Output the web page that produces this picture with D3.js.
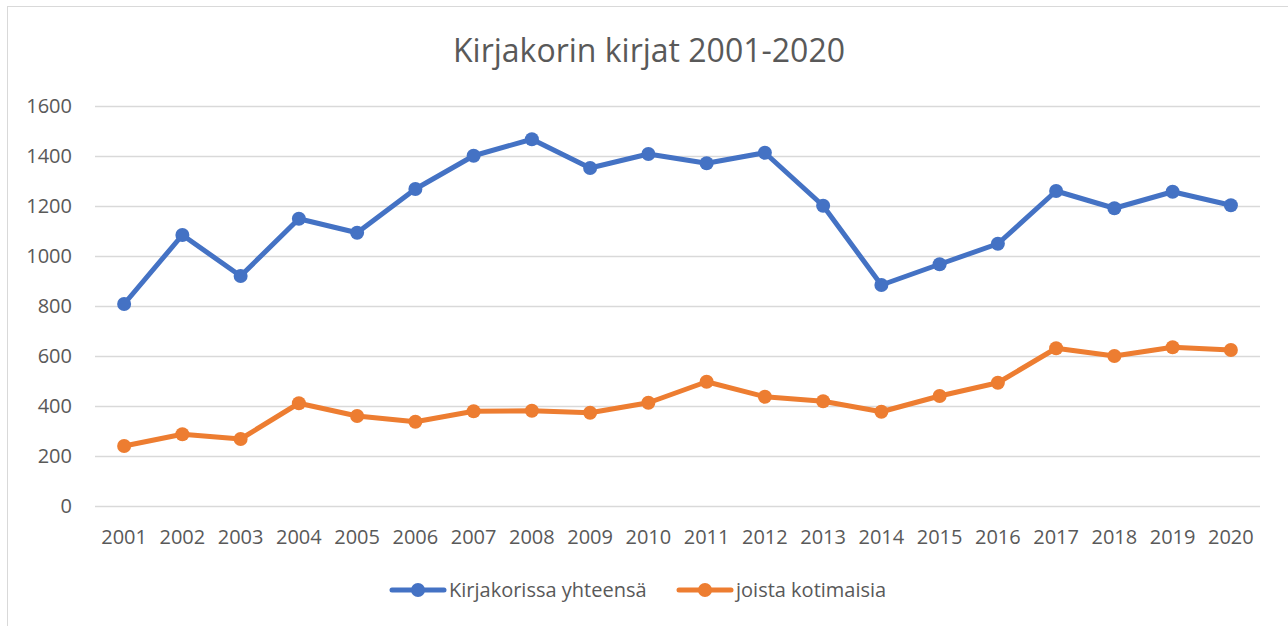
<!DOCTYPE html>
<html>
<head>
<meta charset="utf-8">
<script src="https://cdn.jsdelivr.net/npm/d3@7"></script>
<style>
    body { margin: 0; background: #fff; }
    text { font-family: "Open Sans", "Liberation Sans", sans-serif; fill: #595959; }
</style>
</head>
<body>
<div id="chart"></div>
<script>
// Years on the x axis
const years = ["2001", "2002", "2003", "2004", "2005", "2006", "2007", "2008", "2009", "2010",
    "2011", "2012", "2013", "2014", "2015", "2016", "2017", "2018", "2019", "2020"];

// Series values
const totalBooks = [808, 1084, 920, 1149, 1093, 1268, 1401, 1467, 1352, 1408,
    1371, 1413, 1201, 884, 967, 1049, 1260, 1191, 1257, 1203];
const domesticBooks = [240, 287, 268, 411, 360, 337, 379, 381, 373, 413,
    497, 437, 419, 377, 440, 493, 631, 600, 635, 624];

const yTicks = [0, 200, 400, 600, 800, 1000, 1200, 1400, 1600];

const seriesNames = ["Kirjakorissa yhteensä", "joista kotimaisia"];
const seriesColors = ["#4472C4", "#ED7D31"];

//Dimensions
const W = 1288, H = 626;
const margin = {top: 106, left: 95, right: 28, bottom: 120};
const plotW = W - margin.left - margin.right;
const plotH = H - margin.top - margin.bottom;

const svg = d3.select("#chart").append("svg")
    .attr("width", W)
    .attr("height", H);

//Chart frame
svg.append("rect")
    .attr("x", 7.5).attr("y", 6.5)
    .attr("width", W).attr("height", H)
    .attr("fill", "none")
    .attr("stroke", "#D9D9D9");

//Title
svg.append("text")
    .attr("x", 649).attr("y", 62)
    .attr("text-anchor", "middle")
    .style("font-size", "32px")
    .text("Kirjakorin kirjat 2001-2020");

const x = d3.scaleBand().domain(years).range([0, plotW]);
const y = d3.scaleLinear().domain([0, 1600]).range([plotH, 0]);

const g = svg.append("g").attr("transform", "translate(" + margin.left + "," + margin.top + ")");

//Gridlines and y labels
const yAxis = g.append("g")
    .call(d3.axisLeft(y).tickValues(yTicks).tickFormat(d3.format("d")).tickSize(-plotW).tickPadding(23));
yAxis.select(".domain").remove();
yAxis.selectAll("line").attr("stroke", "#D9D9D9").attr("stroke-width", 1.3);
yAxis.selectAll("text").style("font-size", "20px").attr("fill", "#595959");

//x labels
const xAxis = g.append("g")
    .attr("transform", "translate(0," + plotH + ")")
    .call(d3.axisBottom(x).tickSize(0).tickPadding(24));
xAxis.select(".domain").remove();
xAxis.selectAll("text").style("font-size", "20px").attr("fill", "#595959");

const cx = (d, i) => x(years[i]) + x.bandwidth() / 2;

[totalBooks, domesticBooks].forEach((values, s) => {
    const line = d3.line()
        .x((d, i) => cx(d, i))
        .y(d => y(d));

    g.append("path")
        .datum(values)
        .attr("fill", "none")
        .attr("stroke", seriesColors[s])
        .attr("stroke-width", 5)
        .attr("stroke-linejoin", "round")
        .attr("stroke-linecap", "round")
        .attr("d", line);

    g.selectAll(".pt" + s)
        .data(values)
        .enter().append("circle")
        .attr("class", "pt" + s)
        .attr("cx", cx)
        .attr("cy", d => y(d))
        .attr("r", 7)
        .attr("fill", seriesColors[s]);
});

//Legend
const legendPos = [392, 679];
const legend = svg.append("g").attr("transform", "translate(0,590)");
seriesNames.forEach((name, s) => {
    const lg = legend.append("g").attr("transform", "translate(" + legendPos[s] + ",0)");
    lg.append("line")
        .attr("x1", 0).attr("x2", 52)
        .attr("stroke", seriesColors[s])
        .attr("stroke-width", 5)
        .attr("stroke-linecap", "round");
    lg.append("circle")
        .attr("cx", 26).attr("r", 7)
        .attr("fill", seriesColors[s]);
    lg.append("text")
        .attr("x", 57).attr("dy", "0.35em")
        .style("font-size", "20px")
        .text(name);
});
</script>
</body>
</html>
